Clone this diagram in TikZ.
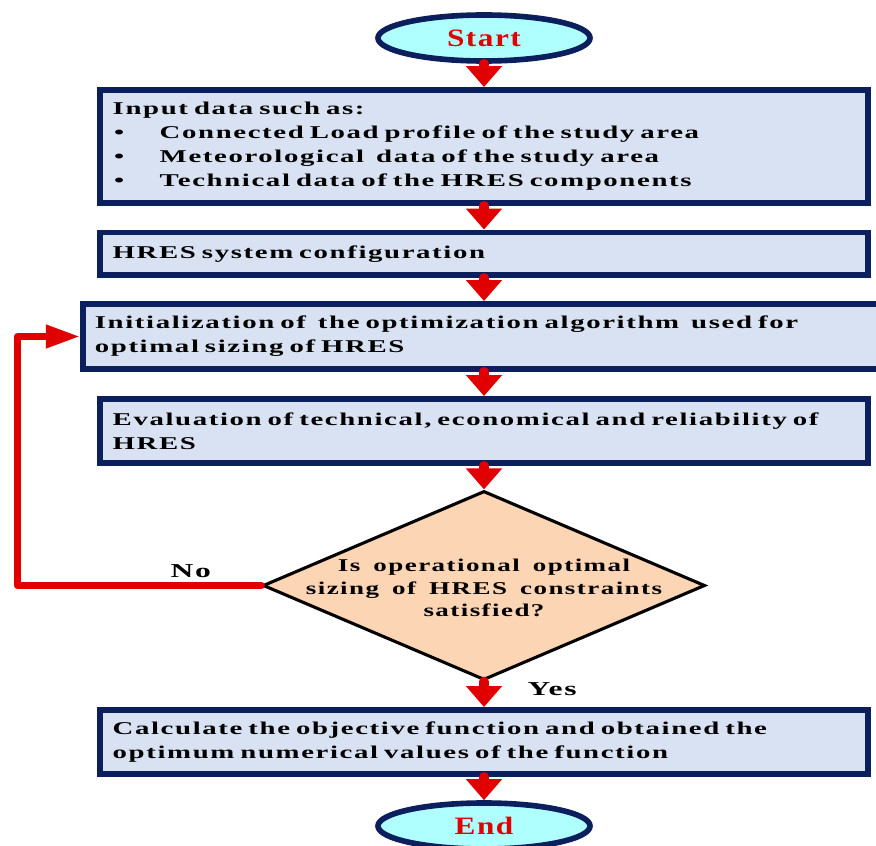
\documentclass[tikz,border=0pt]{standalone}
\usepackage{fontspec}
\newfontfamily\cajafont{Liberation Serif}[FakeStretch=1.6,LetterSpace=9,WordSpace=1.8]
\newfontfamily\rombofont{Liberation Serif}[FakeStretch=1.5,LetterSpace=8,WordSpace=1.6]
\newfontfamily\extremofont{Liberation Serif}[FakeStretch=1.25,LetterSpace=6]
\usetikzlibrary{shapes.geometric,arrows.meta}
\definecolor{marino}{HTML}{0A1F5C}
\definecolor{fondocaja}{HTML}{D9E2F2}
\definecolor{celeste}{HTML}{B0FFFF}
\definecolor{durazno}{HTML}{FCD5B5}
\definecolor{rojo}{HTML}{E00000}
\begin{document}
\begin{tikzpicture}[x=0.025cm, y=-0.025cm,
    caja/.style={draw=marino, line width=4.2pt, fill=fondocaja, text width=18.56cm,
        inner xsep=0.32cm, align=left, font=\cajafont\bfseries\fontsize{12.8pt}{17pt}\selectfont},
    extremo/.style={ellipse, draw=marino, line width=4pt, fill=celeste, minimum width=5.3cm,
        minimum height=1.15cm, text=rojo, font=\extremofont\bfseries\fontsize{17.8pt}{20pt}\selectfont},
    decision/.style={diamond, draw=black, line width=2.2pt, fill=durazno,
        minimum width=11.05cm, minimum height=4.725cm},
    flecha/.style={draw=rojo, line width=7pt, line cap=round, -{Triangle[length=0.525cm, width=0.875cm]}},
    vuelta/.style={draw=rojo, line width=5pt, line cap=round, line join=round,
        -{Triangle[length=0.85cm, width=0.55cm]}},
    etiqueta/.style={font=\cajafont\bfseries\fontsize{14pt}{16pt}\selectfont}]
    \useasboundingbox (0,0) rectangle (876,846);

    \node[extremo] (inicio) at (484,38) {Start};
    \node[caja, minimum height=2.825cm] (datos) at (484,146.5) {Input data such as:\\
        \makebox[1.175cm][l]{\hspace{1pt}\textbullet}Connected Load profile of the study area\\
        \makebox[1.175cm][l]{\hspace{1pt}\textbullet}Meteorological\ \ data of the study area\\
        \makebox[1.175cm][l]{\hspace{1pt}\textbullet}Technical data of the HRES components};
    \node[caja, minimum height=1.0625cm] (config) at (484,253.75) {HRES system configuration};
    \node[caja, text width=19.575cm, inner xsep=0.3cm, minimum height=1.625cm] (init) at (486.5,336.5)
        {Initialization of\ \ the optimization algorithm\ \ used for\\optimal sizing of HRES};
    \node[caja, minimum height=1.6cm] (eval) at (484,431)
        {Evaluation of technical, economical and reliability of\\HRES};

    % Rombo de decision
    \node[decision] (check) at (484,585.5) {};
    \node[align=center, font=\rombofont\bfseries\fontsize{12.8pt}{16pt}\selectfont] (pregunta) at (484,588)
        {Is operational optimal\\sizing of HRES constraints\\satisfied?};

    \node[caja, minimum height=1.6cm] (calc) at (484,742)
        {Calculate the objective function and obtained the\\optimum numerical values of the function};
    \node[extremo] (fin) at (484,826) {End};

    \draw[flecha] (inicio.south) -- (datos.north);
    \draw[flecha] (datos.south) -- (config.north);
    \draw[flecha] (config.south) -- (config.south |- init.north);
    \draw[flecha] (eval.north |- init.south) -- (eval.north);
    \draw[flecha] (eval.south) -- (check.north);
    \draw[flecha] (check.south) -- node[etiqueta, pos=0.3, anchor=west, xshift=0.85cm] {Yes} (calc.north);
    \draw[flecha] (calc.south) -- (fin.north);

    % Regreso cuando no se cumple
    \draw[vuelta] (check.west) -- node[etiqueta, pos=0.29, above] {No} ++(-244,0) |- (init.west);
\end{tikzpicture}
\end{document}
